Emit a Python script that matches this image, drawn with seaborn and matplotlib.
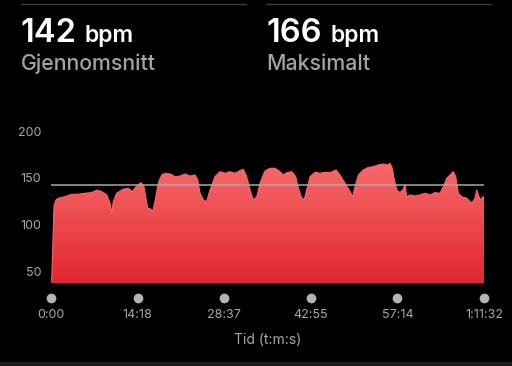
import numpy as np
import pandas as pd
import matplotlib
matplotlib.use("Agg")
import matplotlib.pyplot as plt
from matplotlib.colors import LinearSegmentedColormap
import seaborn as sns

# ---- data ----
minutes = [0.0, 0.15, 0.5, 0.83, 1.21, 2.31, 3.42, 4.46, 5.62, 6.72, 7.55, 8.38, 9.20, 9.75,
           10.03, 10.29, 10.85, 11.94, 12.77, 13.43, 14.16, 14.87, 15.36, 15.81, 15.98, 16.52,
           16.80, 17.18, 17.73, 18.29, 18.83, 19.66, 20.49, 21.31, 22.14, 22.96, 23.79, 24.24,
           24.62, 25.16, 25.72, 26.27, 27.09, 27.92, 28.75, 29.57, 30.40, 31.22, 31.77, 32.33,
           32.88, 33.42, 33.99, 34.53, 35.35, 36.18, 37.01, 37.83, 38.38, 38.94, 39.77, 40.43,
           40.86, 41.42, 41.85, 42.24, 42.79, 43.62, 44.44, 45.27, 46.09, 47.08, 47.75, 48.57,
           49.40, 49.84, 50.22, 50.77, 51.59, 52.42, 53.25, 54.07, 54.90, 55.63, 56.01, 56.39,
           56.72, 57.11, 57.66, 58.20, 58.48, 58.76, 59.31, 60.14, 60.96, 61.79, 62.61, 63.44,
           64.27, 64.81, 65.37, 66.20, 66.46, 66.86, 67.29, 67.85, 68.68, 69.51, 70.05, 70.33,
           70.87, 71.42, 71.53]
bpm = [40, 45, 120, 126.6, 128.4, 130, 132.6, 132.6, 133.7, 134.4, 137, 135.4, 132, 123,
       112.4, 124.8, 133.7, 138, 139, 135.4, 141.5, 145, 140.7, 123, 117.8, 116.7,
       114, 125, 145, 153.2, 155, 154.3, 151.4, 152, 154.3, 152, 153.2, 147.9,
       133.7, 126.6, 124.8, 137.2, 151.4, 156.7, 155, 156.7, 155, 157.8, 159.2, 151.4,
       137.2, 126.6, 130, 144.4, 157.5, 160.3, 160.3, 156.7, 153.2, 155.6, 156.7, 151.4,
       139, 128.4, 127.3, 137.2, 151.4, 156.1, 155, 156.1, 155.6, 158.5, 153.2, 144.4,
       135.4, 130, 140.7, 153.2, 158.5, 161.3, 162, 163.8, 164.9, 163.8, 165.6, 160.3,
       147.9, 137.2, 134.4, 138, 142.6, 130, 131.9, 130.8, 131.9, 133.7, 131.9, 134.4,
       133.7, 140.7, 149.6, 155, 156.7, 151.4, 133.7, 130, 128.4, 123, 128.4, 137.2,
       126.6, 130, 130]
avg_bpm = 142
max_bpm = 166
ytick_values = [50, 100, 150, 200]
xtick_labels = ["0:00", "14:18", "28:37", "42:55", "57:14", "1:11:32"]
total_minutes = 71.53

df = pd.DataFrame({"t": minutes, "bpm": bpm})

sns.set_theme(style="dark")
plt.rcParams["font.family"] = ["Inter", "DejaVu Sans"]

fig = plt.figure(figsize=(5.12, 3.66), dpi=100, facecolor="black")
ax = fig.add_axes([51 / 512, 1 - 283 / 366, 433 / 512, 166 / 366])
ax.set_facecolor("black")

ymin, ymax = 38, 215
ax.set_xlim(0, total_minutes)
ax.set_ylim(ymin, ymax)

# gradient fill
poly = ax.fill_between(df["t"], ymin, df["bpm"], color="none", lw=0)
cmap = LinearSegmentedColormap.from_list("hr", ["#f86a6b", "#e0262e"])
grad = np.linspace(0, 1, 256).reshape(-1, 1)
top = max(bpm)
img = ax.imshow(grad, cmap=cmap, aspect="auto", origin="upper",
                extent=[0, total_minutes, ymin, top], zorder=2)
path = poly.get_paths()[0]
img.set_clip_path(path, transform=ax.transData)

sns.lineplot(data=df, x="t", y="bpm", ax=ax, color="#f5686a", lw=0.8, zorder=3)

# average line
ax.axhline(avg_bpm, color="#a8a8a8", lw=1.1, zorder=4)

# ticks
ax.set_yticks(ytick_values)
ax.set_yticklabels([str(v) for v in ytick_values])
xt = np.linspace(0, total_minutes, len(xtick_labels))
ax.set_xticks(xt)
ax.set_xticklabels(xtick_labels)
ax.tick_params(axis="both", length=0, colors="#a6a6a6", labelsize=9)
ax.tick_params(axis="y", pad=7)
ax.tick_params(axis="x", pad=19)
ax.grid(False)
for s in ax.spines.values():
    s.set_visible(False)

ax.plot(xt, [-0.092] * len(xt), "o", ms=7, color="#b4b4b4", mec="none",
        transform=ax.get_xaxis_transform(), clip_on=False)

ax.set_xlabel("Tid (t:m:s)", color="#a6a6a6", fontsize=10, labelpad=8)
ax.set_ylabel("")

# header
fig.add_artist(plt.Line2D([21 / 512, 246 / 512], [1 - 4 / 366] * 2, color="#3c3c3c", lw=1))
fig.add_artist(plt.Line2D([266 / 512, 491 / 512], [1 - 4 / 366] * 2, color="#3c3c3c", lw=1))

def stat(x0, xunit, value, label):
    fig.text(x0 / 512, 1 - 41.7 / 366, str(value), color="white", fontsize=23.5,
             fontweight="semibold", va="baseline", ha="left")
    fig.text(xunit / 512, 1 - 41.7 / 366, "bpm", color="white", fontsize=16.5,
             fontweight="semibold", va="baseline", ha="left")
    fig.text(x0 / 512, 1 - 70.5 / 366, label, color="#a3a3a3", fontsize=15.3,
             fontweight="medium", va="baseline", ha="left")

stat(21, 84, avg_bpm, "Gjennomsnitt")
stat(266, 331, max_bpm, "Maksimalt")

fig.add_artist(plt.Rectangle((0, 0), 1, 4 / 366, transform=fig.transFigure,
                             color="#1c1c1c", lw=0))

fig.savefig("out.png", dpi=100, facecolor="black")
